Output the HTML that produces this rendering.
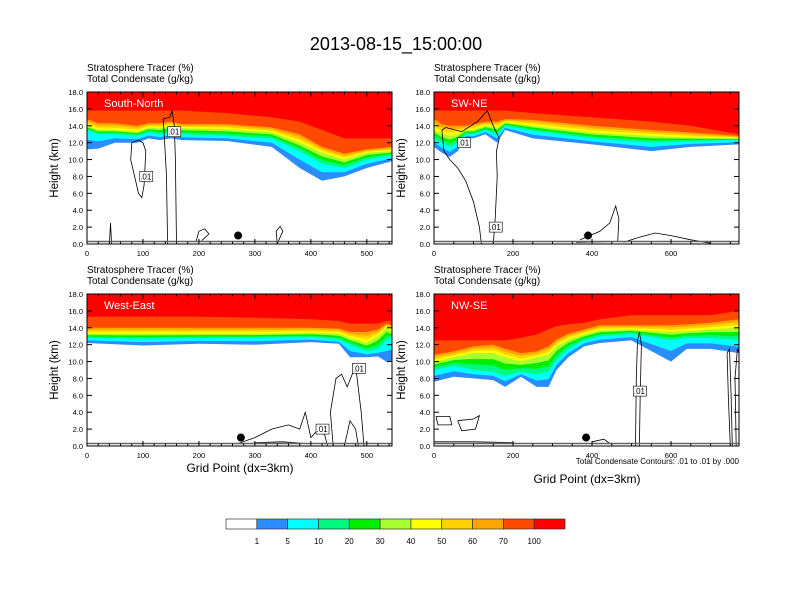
<!DOCTYPE html>
<html><head><meta charset="utf-8"><style>
body{margin:0;background:#fff}
svg{display:block;font-family:"Liberation Sans",sans-serif}
</style></head><body>
<svg id="fig" width="792" height="612" viewBox="0 0 792 612" xmlns="http://www.w3.org/2000/svg">
<rect width="792" height="612" fill="#fff"/>
<text x="396" y="50" font-size="18" text-anchor="middle">2013-08-15_15:00:00</text>
<g id="panels"></g>
<text x="240" y="472" font-size="12" text-anchor="middle">Grid Point (dx=3km)</text>
<text x="587" y="483" font-size="12" text-anchor="middle">Grid Point (dx=3km)</text>
<text x="739" y="464" font-size="8" text-anchor="end">Total Condensate Contours: .01 to .01 by .000</text>
<g id="cbar"></g>
</svg>
<script>
const NS="http://www.w3.org/2000/svg";
const levelColors=["#2b8cff","#00ffff","#00fa80","#00ee00","#a8ff30","#ffff00","#ffd200","#ffa500","#ff4a00","#ff0000"];
const cbLabels=["1","5","10","20","30","40","50","60","70","100"];

// panel TL South-North
const tlX=[0,20,50,90,110,130,150,170,250,330,380,420,460,500,545];
const tlL1=[11.2,11.3,12,12,12.5,12.3,12.5,12.3,12.2,11.5,9,7.5,8,9,9.8];
const tlL10=[13.5,13,13,12.8,13.2,13,13.3,13,12.8,12.5,11,9.5,9,10,10.5];
const tlL40=[14,13.5,13.5,13.3,13.8,13.7,14,13.7,13.6,13.2,12,10.8,10,10.8,11];
const tlL70=[14.8,14.3,14.3,14,14.3,14.3,14.5,14.2,14.2,13.8,13,11.5,10.7,11.2,11.5];
const tlL100=[15.8,15.8,15.8,15.8,15.8,15.8,15.8,15.8,15.5,15,14.5,13.5,12.5,12.5,12.5];
// panel TR SW-NE
const trX=[0,20,40,60,80,100,130,160,180,250,400,550,650,772];
const trL1=[11.5,10.8,10.3,11,12.5,12.5,13,12,13.5,12.5,11.8,11,11.5,11.8];
const trL10=[12.5,12,11.5,12,13,13,13.5,13,14,13.4,12.5,12,12.2,12.3];
const trL40=[13.5,13,12.8,13,13.5,13.5,14,13.8,14.4,14,13.2,12.8,12.6,12.5];
const trL70=[14.8,14.2,14,14,14,14.2,14.5,14.5,14.8,14.7,14,13.5,13.2,12.8];
const trL100=[15.8,15.8,15.8,15.8,15.8,15.8,15.8,15.8,15.8,15.5,15,14.5,14,13];
// panel BL West-East
const blX=[0,100,200,300,400,450,470,500,520,535,545];
const blL1=[12.2,11.9,12.1,12,12.3,12.1,10.5,10.5,10.6,10,10];
const blL10=[12.8,12.7,12.8,12.8,12.9,12.6,12,11.2,11.5,12.5,12.8];
const blL40=[13.3,13.3,13.3,13.3,13.4,13.3,12.8,12.2,13,14,13.5];
const blL70=[14,14,14,14,14,13.9,13.5,13.5,13.8,14.5,14.3];
const blL100=[15.3,15.3,15.3,15.2,15,14.8,14.5,14.5,14.5,14.8,14.8];
// panel BR NW-SE
const brX=[0,50,100,150,180,220,260,290,310,340,380,420,500,600,640,700,772];
const brL1=[7.6,8.2,8,7.8,7,8.2,7,7,9,10.5,11.8,12.2,12.5,10,11.5,11.5,11];
const brL10=[9,9.5,9,8.8,8.3,8.8,8.5,8.8,10.2,11.5,12.5,13,13.3,12.5,12.8,12.8,12.5];
const brL40=[10,10.5,11,11,10.5,10,10.5,10.8,11.8,12.6,13.2,13.7,13.8,13.5,13.6,13.8,14];
const brL70=[10.8,11.2,11.8,12,11.5,11,11.2,11.8,12.6,13.3,13.8,14.3,14.3,14.3,14.4,14.6,15];
const brL100=[12.5,12.5,12.5,12.5,12.5,12.8,13.2,13.8,14.2,14.4,14.6,15,15.5,15.5,15.5,15.5,16];

// condensate contours [grid, km]
const tlC=[[[144,0],[142,8],[138,13],[136,14.8],[148,15],[152,15.8],[156,14],[158,10],[160,0]],
 [[80,12],[78,10],[85,8],[92,6],[98,5.5],[102,7],[105,11],[100,12],[92,12.3],[80,12]],
 [[40,0],[42,2.5],[44,0]],[[340,0],[338,1.5],[345,2.1],[350,1.5],[345,0.8],[340,0]],
 [[195,0.3],[200,1.5],[210,1.8],[218,1.2],[205,0.4]]];
const trC=[[[20,13.5],[25,11],[40,10],[60,9],[80,7.5],[100,5],[115,2],[120,0]],
 [[150,0],[155,3],[160,8],[158,11],[165,12.5],[150,14],[135,15.8],[110,14.5],[70,13.3],[30,13.8],[20,13.5]],
 [[370,0.5],[420,1.5],[445,2.5],[460,4.5],[468,3],[465,0.3]],
 [[480,0.2],[520,0.8],[560,1.3],[600,1.0],[650,0.5],[700,0.1]],[[360,0.2],[470,0.3]]];
const blC=[[[270,0.3],[300,1],[330,2],[360,2.5],[380,2],[390,4],[400,1],[420,2.5],[430,0]],
 [[440,0],[435,4],[445,8],[455,8.5],[465,7],[480,9.5],[490,4],[495,0]],
 [[460,0],[470,3],[480,2],[485,0]],[[300,0.4],[350,0.5],[390,0.3]]];
const brC=[[[510,0],[512,8],[515,12.5],[520,13.5],[525,12],[522,6],[520,0]],
 [[750,0],[745,6],[742,11],[748,11.5],[752,6],[755,0]],
 [[765,0],[762,8],[768,11.5],[772,11]],
 [[5,3.5],[40,3.5],[45,2.5],[10,2.5],[5,3.5]],
 [[60,3],[100,3.2],[115,3.6],[105,2],[70,1.8],[60,3]],
 [[0,0.5],[100,0.5],[200,0.4]],[[400,0.5],[430,0.8],[445,0.3]]];

const panels=[
 {id:"south-north",label:"South-North",px:87,py:92,xmax:545,xs:tlX,l1:tlL1,l10:tlL10,l40:tlL40,l70:tlL70,l100:tlL100,c:tlC,xt:[0,100,200,300,400,500],xm:20,dot:270,lab:[[155,13.3],[105,8]]},
 {id:"sw-ne",label:"SW-NE",px:434,py:92,xmax:772,xs:trX,l1:trL1,l10:trL10,l40:trL40,l70:trL70,l100:trL100,c:trC,xt:[0,200,400,600],xm:50,dot:390,lab:[[75,12],[155,2]]},
 {id:"west-east",label:"West-East",px:87,py:294,xmax:545,xs:blX,l1:blL1,l10:blL10,l40:blL40,l70:blL70,l100:blL100,c:blC,xt:[0,100,200,300,400,500],xm:20,dot:275,lab:[[485,9.2],[420,2]]},
 {id:"nw-se",label:"NW-SE",px:434,py:294,xmax:772,xs:brX,l1:brL1,l10:brL10,l40:brL40,l70:brL70,l100:brL100,c:brC,xt:[0,200,400,600],xm:50,dot:385,lab:[[520,6.5]]}
];
const W=305,H=152;
function el(tag,attrs,parent){const e=document.createElementNS(NS,tag);for(const k in attrs)e.setAttribute(k,attrs[k]);parent.appendChild(e);return e;}
const root=document.getElementById("panels");
panels.forEach((p,pi)=>{
 const g=el("g",{},root);
 
 
 const sx=v=>p.px+v/p.xmax*W, sy=h=>p.py+H-h/18*H;
 const cp=el("clipPath",{id:"cp"+pi},g);el("rect",{x:p.px,y:p.py,width:W,height:H},cp);
 const fills=el("g",{"clip-path":"url(#cp"+pi+")"},g);
 const mix=(a,b,f)=>a.map((v,i)=>v+(b[i]-v)*f);
 const levels=[p.l1,mix(p.l1,p.l10,0.5),p.l10,mix(p.l10,p.l40,1/3),mix(p.l10,p.l40,2/3),p.l40,mix(p.l40,p.l70,1/3),mix(p.l40,p.l70,2/3),p.l70,p.l100];
 levels.forEach((lv,li)=>{
  let d="M"+sx(p.xs[0])+","+sy(18);
  p.xs.forEach((x,i)=>{d+=" L"+sx(x).toFixed(1)+","+sy(lv[i]).toFixed(1);});
  d+=" L"+sx(p.xs[p.xs.length-1])+","+sy(18)+"Z";
  const f=el("path",{d:d,fill:levelColors[li],stroke:"none"},fills);
  
  
 });
 p.c.forEach(line=>{
  const pl=el("polyline",{points:line.map(q=>sx(q[0]).toFixed(1)+","+sy(q[1]).toFixed(1)).join(" "),fill:"none",stroke:"#000","stroke-width":"0.8"},fills);
  
  
 });
 p.lab.forEach(q=>{
  const lg=el("g",{},g);
  
  
  el("rect",{x:sx(q[0])-6,y:sy(q[1])-5,width:13,height:10,fill:"#fff",stroke:"#000","stroke-width":"0.6"},lg);
  const t=el("text",{x:sx(q[0]),y:sy(q[1])+3,"font-size":"8","text-anchor":"middle"},lg);t.textContent=".01";
 });
 const dot=el("circle",{cx:sx(p.dot),cy:sy(1),r:4,fill:"#000"},g);
 
 
 el("line",{x1:p.px,x2:p.px+W,y1:sy(0.3),y2:sy(0.3),stroke:"#666","stroke-width":"1.5"},g);
 el("rect",{x:p.px,y:p.py,width:W,height:H,fill:"none",stroke:"#000","stroke-width":"1"},g);
 const lt=el("text",{x:p.px+17,y:p.py+15,"font-size":"11",fill:"#fff"},g);lt.textContent=p.label;
 
 
 const s1=el("text",{x:p.px,y:p.py-21,"font-size":"10"},g);s1.textContent="Stratosphere Tracer   (%)";
 
 
 const s2=el("text",{x:p.px,y:p.py-10,"font-size":"10"},g);s2.textContent="Total Condensate   (g/kg)";
 
 
 for(let h=0;h<=18;h+=2){
  el("line",{x1:p.px,x2:p.px+5,y1:sy(h),y2:sy(h),stroke:"#000"},g);
  el("line",{x1:p.px+W,x2:p.px+W-5,y1:sy(h),y2:sy(h),stroke:"#000"},g);
  const t=el("text",{x:p.px-4,y:sy(h)+3,"font-size":"7.5","text-anchor":"end"},g);t.textContent=h.toFixed(1);
  
  
 }
 for(let v=0;v<=p.xmax;v+=p.xm){
  const major=p.xt.includes(v);
  el("line",{x1:sx(v),x2:sx(v),y1:p.py+H,y2:p.py+H-(major?5:2.5),stroke:"#000"},g);
  el("line",{x1:sx(v),x2:sx(v),y1:p.py,y2:p.py+(major?5:2.5),stroke:"#000"},g);
 }
 p.xt.forEach(v=>{const t=el("text",{x:sx(v),y:p.py+H+12,"font-size":"7.5","text-anchor":"middle"},g);t.textContent=v;
  
  });
 const yl=el("text",{x:0,y:0,"font-size":"11.5","text-anchor":"middle",transform:"translate("+(p.px-29)+","+(p.py+H/2)+") rotate(-90)"},g);yl.textContent="Height (km)";
 
 
});
const cb=document.getElementById("cbar");
const cbColors=["#ffffff"].concat(levelColors);
const bw=(565-226)/11;
cbColors.forEach((c,i)=>{
 const r=el("rect",{x:226+i*bw,y:519,width:bw,height:10,fill:c,stroke:"#333","stroke-width":"0.7"},cb);
 
 
});
cbLabels.forEach((l,i)=>{const t=el("text",{x:226+(i+1)*bw,y:544,"font-size":"8","text-anchor":"middle"},cb);t.textContent=l;
 
 });
</script>
</body></html>
